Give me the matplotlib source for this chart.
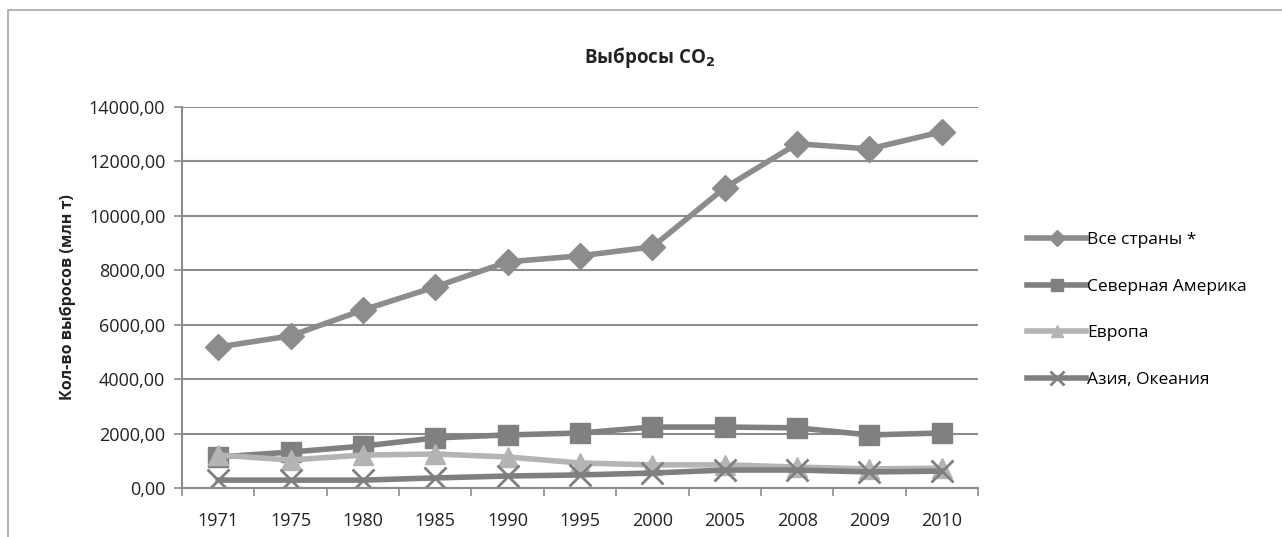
import numpy as np
import matplotlib.pyplot as plt
from matplotlib.patches import Rectangle

plt.rcParams['font.family'] = ['Open Sans', 'DejaVu Sans']

years = ['1971', '1975', '1980', '1985', '1990', '1995', '2000', '2005', '2008', '2009', '2010']
all_countries = [5180, 5590, 6540, 7390, 8310, 8530, 8860, 11030, 12650, 12460, 13090]
north_america = [1140, 1320, 1540, 1840, 1950, 2020, 2240, 2240, 2210, 1950, 2020]
europe = [1210, 1030, 1210, 1250, 1140, 920, 850, 850, 770, 700, 730]
asia_oceania = [290, 290, 290, 370, 440, 480, 550, 660, 660, 590, 620]

fig = plt.figure(figsize=(12.82, 5.37), dpi=100)
ax = fig.add_axes([182 / 1282, 49 / 537, (978 - 182) / 1282, (488 - 107) / 537])

# outer chart frame (runs off the right and bottom edge)
fig.patches.append(Rectangle((8 / 1282, -0.1), 1.2, 1 - 10 / 537 + 0.1,
                             transform=fig.transFigure, fill=False,
                             edgecolor='#a6a6a6', linewidth=1.2))

x = np.arange(len(years))
ax.plot(x, all_countries, color='#8c8c8c', lw=4, marker='D', ms=13, label='Все страны *')
ax.plot(x, north_america, color='#808080', lw=4, marker='s', ms=15, label='Северная Америка')
ax.plot(x, europe, color='#b4b4b4', lw=4, marker='^', ms=15, label='Европа')
ax.plot(x, asia_oceania, color='#7f7f7f', lw=4, marker='x', ms=16, mew=2,
        label='Азия, Океания')

ax.set_xlim(-0.5, len(years) - 0.5)
ax.set_ylim(0, 14000)
ax.set_yticks(np.arange(0, 14001, 2000))
ax.set_yticklabels([f'{v},00' for v in range(0, 14001, 2000)])
ax.yaxis.grid(True, color='#8c8c8c', lw=1.5)
ax.set_axisbelow(True)

ax.set_xticks(x)
ax.set_xticklabels(years)
ax.set_xticks(np.arange(-0.5, len(years)), minor=True)
ax.tick_params(axis='x', which='major', length=0, pad=17, labelsize=13, colors='#222222')
ax.tick_params(axis='x', which='minor', length=6, color='#8c8c8c', width=1.2)
ax.tick_params(axis='y', length=6, color='#8c8c8c', width=1.2, labelsize=13,
               labelcolor='#222222', pad=6)

for s in ['top', 'right']:
    ax.spines[s].set_visible(False)
for s in ['left', 'bottom']:
    ax.spines[s].set_color('#8c8c8c')
    ax.spines[s].set_linewidth(1.5)

ax.set_ylabel('Кол-во выбросов (млн т)', fontsize=11.5, fontweight='bold', labelpad=9,
              color='#222222')
fig.text(650 / 1282, 1 - 57 / 537, 'Выбросы CO$_\\mathbf{2}$', ha='center', va='center',
         fontsize=13.5, fontweight='bold', color='#222222')

ax.legend(loc='center left', bbox_to_anchor=(1.053, 0.467), frameon=False,
          fontsize=12.5, handlelength=3.4, handletextpad=0.05, labelspacing=1.75,
          markerscale=0.6, borderaxespad=0)

fig.savefig('out.png', dpi=100)
